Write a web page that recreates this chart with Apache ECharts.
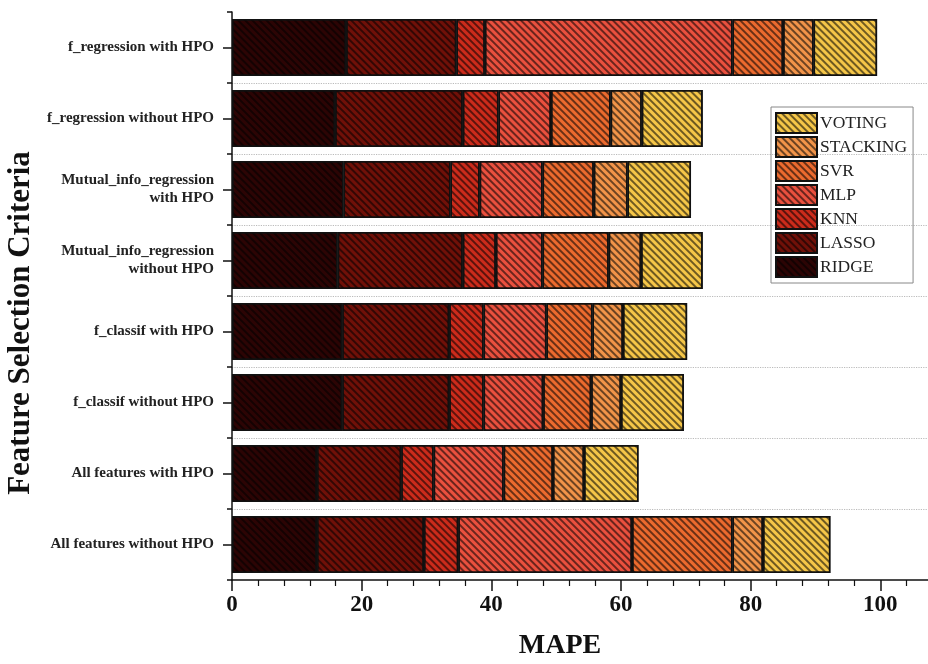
<!DOCTYPE html>
<html>
<head>
<meta charset="utf-8">
<script src="https://cdn.jsdelivr.net/npm/echarts@6/dist/echarts.min.js"></script>
<style>
html, body { margin: 0; padding: 0; background: #fff; }
#chart { width: 928px; height: 664px; }
</style>
</head>
<body>
<div id="chart"></div>
<script>
// categories, top to bottom
var criteria = ['f_regression with HPO', 'f_regression without HPO', 'Mutual_info_regression\nwith HPO',
    'Mutual_info_regression\nwithout HPO', 'f_classif with HPO', 'f_classif without HPO',
    'All features with HPO', 'All features without HPO'];

// MAPE per model (stacked)
var ridge    = [17.6, 15.9, 17.2, 16.3, 17.0, 17.0, 13.1, 13.1];
var lasso    = [17.0, 19.7, 16.5, 19.3, 16.5, 16.5, 13.0, 16.5];
var knn      = [4.4, 5.5, 4.5, 5.1, 5.3, 5.3, 5.0, 5.3];
var mlp      = [38.2, 8.1, 9.7, 7.2, 9.7, 9.2, 10.8, 26.8];
var svr      = [7.8, 9.2, 7.9, 10.2, 7.1, 7.4, 7.6, 15.5];
var stacking = [4.7, 4.8, 5.2, 5.0, 4.7, 4.6, 4.8, 4.7];
var voting   = [9.8, 9.4, 9.8, 9.5, 9.9, 9.7, 8.4, 10.4];

var models = ['RIDGE', 'LASSO', 'KNN', 'MLP', 'SVR', 'STACKING', 'VOTING'];
var values = [ridge, lasso, knn, mlp, svr, stacking, voting];
var colors = ['#2c0404', '#701008', '#cc2b1b', '#ea503e', '#ec6a2e', '#f29449', '#f5c648'];

var font = 'Liberation Serif';

var myChart = echarts.init(document.getElementById('chart'));

var series = [];
for (var i = 0; i < models.length; i++) {
    series.push({
        name: models[i],
        type: 'bar',
        stack: 'total',
        barCategoryGap: '20%',
        data: values[i],
        itemStyle: {
            color: colors[i],
            borderColor: '#111',
            borderWidth: 1.5,
            decal: {
                symbol: 'rect',
                symbolSize: 1,
                dashArrayX: [1, 0],
                dashArrayY: [1.8, 3],
                rotation: Math.PI / 4,
                color: 'rgba(0,0,0,0.55)'
            }
        }
    });
}

var option = {
    animation: false,
    // axis runs past the right edge of the picture, as in the original
    grid: { left: 232, right: -82, top: 12, bottom: 84, outerBoundsMode: 'none' },
    legend: {
        orient: 'vertical',
        left: 771,
        top: 107,
        padding: [5, 6, 5, 4],
        icon: 'rect',
        itemWidth: 41,
        itemHeight: 20,
        itemGap: 2,
        borderColor: '#888',
        borderWidth: 1,
        data: ['VOTING', 'STACKING', 'SVR', 'MLP', 'KNN', 'LASSO', 'RIDGE'],
        textStyle: { fontFamily: font, fontSize: 17.5, lineHeight: 20, color: '#222', padding: [0, 0, 0, -2] }
    },
    xAxis: {
        type: 'value',
        min: 0,
        max: 120,
        interval: 20,
        name: 'MAPE',
        nameLocation: 'middle',
        nameGap: 52,
        nameTextStyle: { fontFamily: font, fontSize: 28, fontWeight: 'bold', color: '#111', padding: [0, 122, 0, 0] },
        axisLine: { show: true, lineStyle: { color: '#111', width: 1.5 } },
        axisTick: { show: true, length: 11, lineStyle: { color: '#111', width: 1.5 } },
        minorTick: { show: true, splitNumber: 5, length: 6, lineStyle: { color: '#111', width: 1.2 } },
        axisLabel: { fontFamily: font, fontSize: 23, fontWeight: 'bold', color: '#111', margin: 14 },
        splitLine: { show: false }
    },
    yAxis: [
        {
            type: 'category',
            inverse: true,
            data: criteria,
            name: 'Feature Selection Criteria',
            nameLocation: 'middle',
            nameGap: 194,
            nameTextStyle: { fontFamily: font, fontSize: 31, fontWeight: 'bold', color: '#111', padding: [0, 54, 0, 0] },
            axisLine: { show: true, lineStyle: { color: '#111', width: 1.5 } },
            axisTick: { show: true, alignWithLabel: true, length: 9, lineStyle: { color: '#111', width: 1.5 } },
            axisLabel: { fontFamily: font, fontSize: 15, fontWeight: 'bold', color: '#222', margin: 18, lineHeight: 18, align: 'right' },
            splitLine: { show: false }
        },
        {
            // boundary ticks and dotted separators
            type: 'category',
            inverse: true,
            position: 'left',
            data: criteria,
            axisLine: { show: false },
            axisTick: { show: true, length: 5, lineStyle: { color: '#111', width: 1.5 } },
            axisLabel: { show: false },
            splitLine: { show: true, showMinLine: false, showMaxLine: false, lineStyle: { color: '#bbb', type: 'dotted', width: 1.2 } }
        }
    ],
    series: series
};

myChart.setOption(option);
</script>
</body>
</html>
